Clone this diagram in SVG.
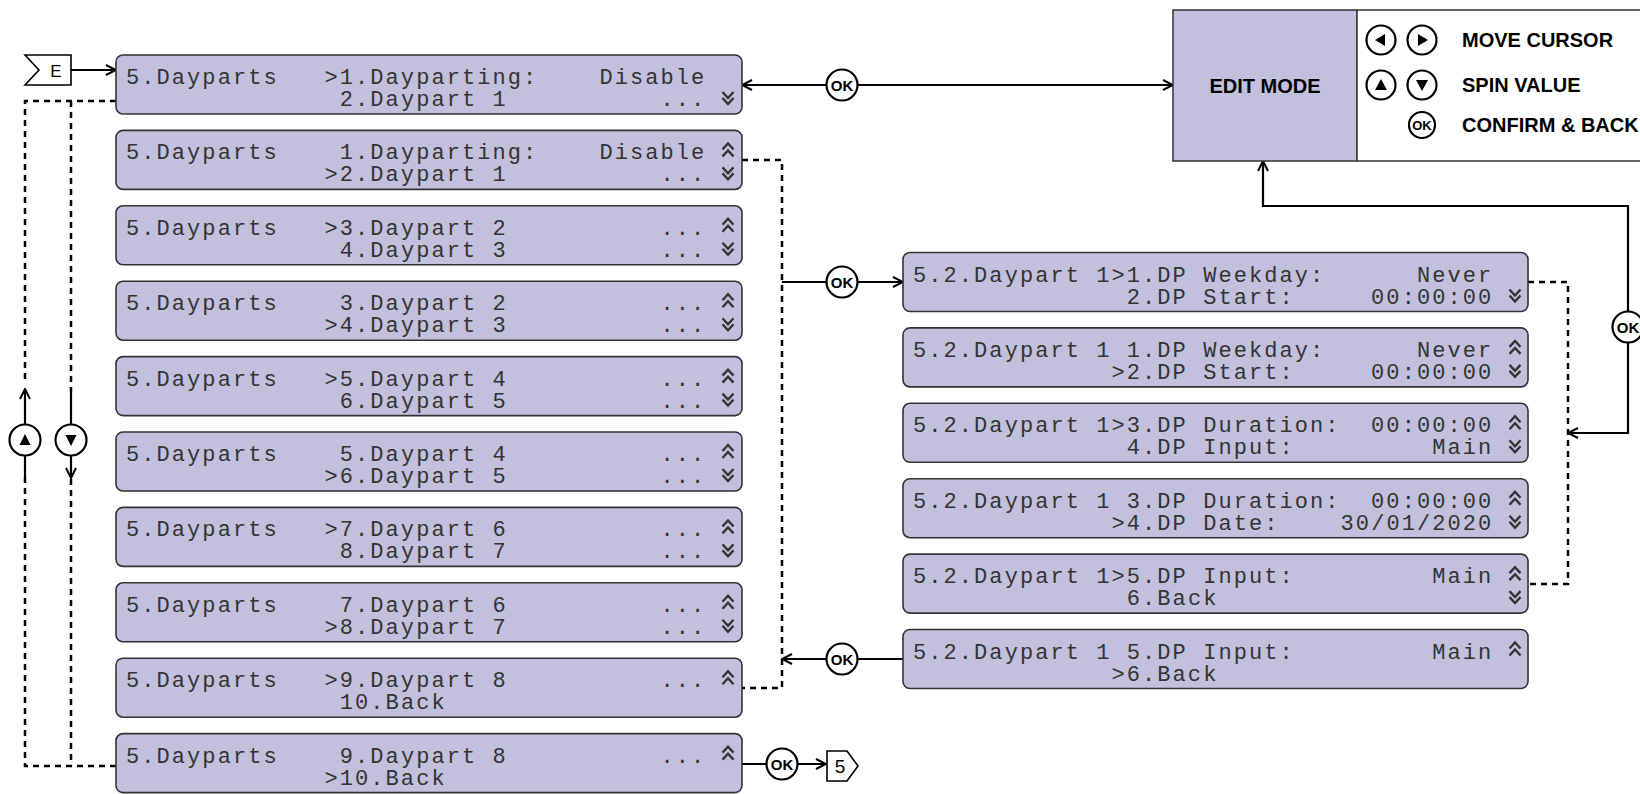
<svg xmlns="http://www.w3.org/2000/svg" width="1640" height="794" viewBox="0 0 1640 794">
<style>
.box{fill:#c2c0dc;stroke:#333;stroke-width:1.6}
.lcd{font-family:"Liberation Mono","DejaVu Sans Mono",monospace;font-size:22px;letter-spacing:2.07px;fill:#333}
.chev{fill:none;stroke:#333;stroke-width:2.3}
.dot{fill:none;stroke:#000;stroke-width:2.5;stroke-dasharray:6 5}
.sol{fill:none;stroke:#000;stroke-width:2.2}
.okc{fill:#fff;stroke:#000;stroke-width:2.2}
.okt{font-family:"Liberation Sans",Arial,sans-serif;font-weight:bold;font-size:15px;text-anchor:middle}
.lbl{font-family:"Liberation Sans",Arial,sans-serif;font-weight:bold;font-size:20px}
.mk{fill:#fff;stroke:#000;stroke-width:1.6}
</style>
<defs>
<marker id="arr" viewBox="0 0 12 12" refX="11" refY="6" markerWidth="12" markerHeight="12" markerUnits="userSpaceOnUse" orient="auto-start-reverse">
<path d="M1,1 L11,6 L1,11" fill="none" stroke="#000" stroke-width="2"/>
</marker>
<path id="up" d="M-5.5,19 L0,13 L5.5,19 M-5.5,26 L0,20 L5.5,26" class="chev"/>
<path id="dn" d="M-5.5,37 L0,43 L5.5,37 M-5.5,43 L0,49 L5.5,43" class="chev"/>
</defs>

<g id="connectors">
<path class="sol" d="M742,85 H1173" marker-start="url(#arr)" marker-end="url(#arr)"/>
<path class="sol" d="M71,70 H116" marker-end="url(#arr)"/>
<path class="dot" d="M116,101 H25 V383 M71,101 V392 M25,477 V766 H116 M71,479 V766"/>
<path class="sol" d="M25,477 V389" marker-end="url(#arr)"/>
<path class="sol" d="M71,392 V478" marker-end="url(#arr)"/>
<path class="dot" d="M742,160 H782 V688 H742"/>
<path class="sol" d="M782,282 H903" marker-end="url(#arr)"/>
<path class="sol" d="M903,659 H782" marker-end="url(#arr)"/>
<path class="dot" d="M1528,282 H1568 V584 H1528"/>
<path class="sol" d="M1568,433 H1628 V206 H1263 V161" marker-start="url(#arr)" marker-end="url(#arr)"/>
<path class="sol" d="M742,764 H826" marker-end="url(#arr)"/>
<circle class="okc" cx="842" cy="85" r="15.5"/><text class="okt" x="842" y="90.5">OK</text>
<circle class="okc" cx="842" cy="282" r="15.5"/><text class="okt" x="842" y="287.5">OK</text>
<circle class="okc" cx="842" cy="659" r="15.5"/><text class="okt" x="842" y="664.5">OK</text>
<circle class="okc" cx="1628" cy="327" r="15.5"/><text class="okt" x="1628" y="332.5">OK</text>
<circle class="okc" cx="782" cy="764" r="15.5"/><text class="okt" x="782" y="769.5">OK</text>
<circle class="okc" cx="25" cy="440" r="15.5"/><path d="M25,434 L19.5,445 L30.5,445 Z"/>
<circle class="okc" cx="71" cy="440" r="15.5"/><path d="M71,446 L65.5,435 L76.5,435 Z"/>
</g>

<g id="entry-E">
<polygon class="mk" points="25,55 71,55 71,85 25,85 39,70"/>
<text x="56" y="76.5" font-family="Liberation Sans,Arial,sans-serif" font-size="17" text-anchor="middle">E</text>
</g>
<g id="exit-5">
<polygon class="mk" points="827,751 847,751 858,766 847,781 827,781"/>
<text x="840" y="773" font-family="Liberation Sans,Arial,sans-serif" font-size="19" text-anchor="middle">5</text>
</g>

<g id="edit-mode">
<rect x="1173" y="10" width="184" height="151" class="box" style="stroke-width:1.5"/>
<text class="lbl" x="1265" y="92.5" text-anchor="middle">EDIT MODE</text>
</g>
<g id="legend">
<rect x="1357" y="10" width="300" height="151" fill="#fff" stroke="#333" stroke-width="1.5"/>
<circle class="okc" cx="1381" cy="40" r="14.5"/><path d="M1375,40 L1385,34 L1385,46 Z"/>
<circle class="okc" cx="1422" cy="40" r="14.5"/><path d="M1428,40 L1418,34 L1418,46 Z"/>
<text class="lbl" x="1462" y="47">MOVE CURSOR</text>
<circle class="okc" cx="1381" cy="85" r="14.5"/><path d="M1381,79 L1375,90 L1387,90 Z"/>
<circle class="okc" cx="1422" cy="85" r="14.5"/><path d="M1422,91 L1416,80 L1428,80 Z"/>
<text class="lbl" x="1462" y="92">SPIN VALUE</text>
<circle class="okc" cx="1422" cy="125" r="13"/><text class="okt" x="1422" y="130" style="font-size:13px">OK</text>
<text class="lbl" x="1462" y="132">CONFIRM &amp; BACK</text>
</g>

<g id="menu-1" transform="translate(0,55)">
<rect x="116" y="0" width="626" height="59" rx="7" class="box"/>
<text class="lcd" y="29"><tspan x="126">5.Dayparts</tspan><tspan x="324.5">&gt;1.Dayparting:</tspan><tspan x="599.4">Disable</tspan></text>
<text class="lcd" y="51"><tspan x="339.8">2.Daypart 1</tspan><tspan x="660.5">...</tspan></text>
<use href="#dn" x="728"/>
</g>
<g id="menu-2" transform="translate(0,130.4)">
<rect x="116" y="0" width="626" height="59" rx="7" class="box"/>
<text class="lcd" y="29"><tspan x="126">5.Dayparts</tspan><tspan x="339.8">1.Dayparting:</tspan><tspan x="599.4">Disable</tspan></text>
<text class="lcd" y="51"><tspan x="324.5">&gt;2.Daypart 1</tspan><tspan x="660.5">...</tspan></text>
<use href="#up" x="728"/><use href="#dn" x="728"/>
</g>
<g id="menu-3" transform="translate(0,205.8)">
<rect x="116" y="0" width="626" height="59" rx="7" class="box"/>
<text class="lcd" y="29"><tspan x="126">5.Dayparts</tspan><tspan x="324.5">&gt;3.Daypart 2</tspan><tspan x="660.5">...</tspan></text>
<text class="lcd" y="51"><tspan x="339.8">4.Daypart 3</tspan><tspan x="660.5">...</tspan></text>
<use href="#up" x="728"/><use href="#dn" x="728"/>
</g>
<g id="menu-4" transform="translate(0,281.2)">
<rect x="116" y="0" width="626" height="59" rx="7" class="box"/>
<text class="lcd" y="29"><tspan x="126">5.Dayparts</tspan><tspan x="339.8">3.Daypart 2</tspan><tspan x="660.5">...</tspan></text>
<text class="lcd" y="51"><tspan x="324.5">&gt;4.Daypart 3</tspan><tspan x="660.5">...</tspan></text>
<use href="#up" x="728"/><use href="#dn" x="728"/>
</g>
<g id="menu-5" transform="translate(0,356.6)">
<rect x="116" y="0" width="626" height="59" rx="7" class="box"/>
<text class="lcd" y="29"><tspan x="126">5.Dayparts</tspan><tspan x="324.5">&gt;5.Daypart 4</tspan><tspan x="660.5">...</tspan></text>
<text class="lcd" y="51"><tspan x="339.8">6.Daypart 5</tspan><tspan x="660.5">...</tspan></text>
<use href="#up" x="728"/><use href="#dn" x="728"/>
</g>
<g id="menu-6" transform="translate(0,432)">
<rect x="116" y="0" width="626" height="59" rx="7" class="box"/>
<text class="lcd" y="29"><tspan x="126">5.Dayparts</tspan><tspan x="339.8">5.Daypart 4</tspan><tspan x="660.5">...</tspan></text>
<text class="lcd" y="51"><tspan x="324.5">&gt;6.Daypart 5</tspan><tspan x="660.5">...</tspan></text>
<use href="#up" x="728"/><use href="#dn" x="728"/>
</g>
<g id="menu-7" transform="translate(0,507.4)">
<rect x="116" y="0" width="626" height="59" rx="7" class="box"/>
<text class="lcd" y="29"><tspan x="126">5.Dayparts</tspan><tspan x="324.5">&gt;7.Daypart 6</tspan><tspan x="660.5">...</tspan></text>
<text class="lcd" y="51"><tspan x="339.8">8.Daypart 7</tspan><tspan x="660.5">...</tspan></text>
<use href="#up" x="728"/><use href="#dn" x="728"/>
</g>
<g id="menu-8" transform="translate(0,582.8)">
<rect x="116" y="0" width="626" height="59" rx="7" class="box"/>
<text class="lcd" y="29"><tspan x="126">5.Dayparts</tspan><tspan x="339.8">7.Daypart 6</tspan><tspan x="660.5">...</tspan></text>
<text class="lcd" y="51"><tspan x="324.5">&gt;8.Daypart 7</tspan><tspan x="660.5">...</tspan></text>
<use href="#up" x="728"/><use href="#dn" x="728"/>
</g>
<g id="menu-9" transform="translate(0,658.2)">
<rect x="116" y="0" width="626" height="59" rx="7" class="box"/>
<text class="lcd" y="29"><tspan x="126">5.Dayparts</tspan><tspan x="324.5">&gt;9.Daypart 8</tspan><tspan x="660.5">...</tspan></text>
<text class="lcd" y="51"><tspan x="339.8">10.Back</tspan></text>
<use href="#up" x="728"/>
</g>
<g id="menu-10" transform="translate(0,733.6)">
<rect x="116" y="0" width="626" height="59" rx="7" class="box"/>
<text class="lcd" y="29"><tspan x="126">5.Dayparts</tspan><tspan x="339.8">9.Daypart 8</tspan><tspan x="660.5">...</tspan></text>
<text class="lcd" y="51"><tspan x="324.5">&gt;10.Back</tspan></text>
<use href="#up" x="728"/>
</g>

<g id="sub-1" transform="translate(0,252.5)">
<rect x="903" y="0" width="625" height="59" rx="7" class="box"/>
<text class="lcd" y="29"><tspan x="913">5.2.Daypart 1</tspan><tspan x="1111.5">&gt;1.DP Weekday:</tspan><tspan x="1416.9">Never</tspan></text>
<text class="lcd" y="51"><tspan x="1126.8">2.DP Start:</tspan><tspan x="1371.1">00:00:00</tspan></text>
<use href="#dn" x="1515"/>
</g>
<g id="sub-2" transform="translate(0,327.9)">
<rect x="903" y="0" width="625" height="59" rx="7" class="box"/>
<text class="lcd" y="29"><tspan x="913">5.2.Daypart 1</tspan><tspan x="1126.8">1.DP Weekday:</tspan><tspan x="1416.9">Never</tspan></text>
<text class="lcd" y="51"><tspan x="1111.5">&gt;2.DP Start:</tspan><tspan x="1371.1">00:00:00</tspan></text>
<use href="#up" x="1515"/><use href="#dn" x="1515"/>
</g>
<g id="sub-3" transform="translate(0,403.3)">
<rect x="903" y="0" width="625" height="59" rx="7" class="box"/>
<text class="lcd" y="29"><tspan x="913">5.2.Daypart 1</tspan><tspan x="1111.5">&gt;3.DP Duration:</tspan><tspan x="1371.1">00:00:00</tspan></text>
<text class="lcd" y="51"><tspan x="1126.8">4.DP Input:</tspan><tspan x="1432.2">Main</tspan></text>
<use href="#up" x="1515"/><use href="#dn" x="1515"/>
</g>
<g id="sub-4" transform="translate(0,478.7)">
<rect x="903" y="0" width="625" height="59" rx="7" class="box"/>
<text class="lcd" y="29"><tspan x="913">5.2.Daypart 1</tspan><tspan x="1126.8">3.DP Duration:</tspan><tspan x="1371.1">00:00:00</tspan></text>
<text class="lcd" y="51"><tspan x="1111.5">&gt;4.DP Date:</tspan><tspan x="1340.6">30/01/2020</tspan></text>
<use href="#up" x="1515"/><use href="#dn" x="1515"/>
</g>
<g id="sub-5" transform="translate(0,554.1)">
<rect x="903" y="0" width="625" height="59" rx="7" class="box"/>
<text class="lcd" y="29"><tspan x="913">5.2.Daypart 1</tspan><tspan x="1111.5">&gt;5.DP Input:</tspan><tspan x="1432.2">Main</tspan></text>
<text class="lcd" y="51"><tspan x="1126.8">6.Back</tspan></text>
<use href="#up" x="1515"/><use href="#dn" x="1515"/>
</g>
<g id="sub-6" transform="translate(0,629.5)">
<rect x="903" y="0" width="625" height="59" rx="7" class="box"/>
<text class="lcd" y="29"><tspan x="913">5.2.Daypart 1</tspan><tspan x="1126.8">5.DP Input:</tspan><tspan x="1432.2">Main</tspan></text>
<text class="lcd" y="51"><tspan x="1111.5">&gt;6.Back</tspan></text>
<use href="#up" x="1515"/>
</g>
</svg>
